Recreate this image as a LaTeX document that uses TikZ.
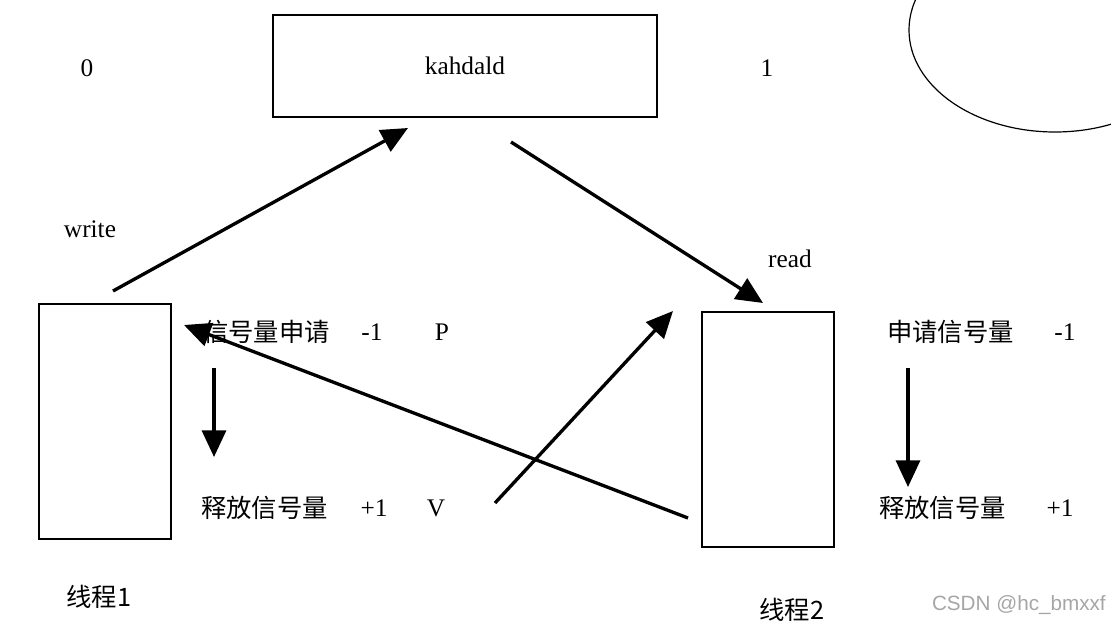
\documentclass[tikz,border=0pt]{standalone}
\usepackage{fontspec}
\setmainfont{Liberation Serif}
\newfontfamily\cjk{Noto Sans CJK SC}
\newfontfamily\wmfont{Liberation Sans}
\usetikzlibrary{arrows.meta}

\tikzset{
  box/.style={draw, line width=1pt, inner sep=0pt},
  arr/.style={line width=2.5pt, -{Triangle[length=20pt,width=18pt]}},
  zh/.style={font=\cjk\fontsize{19}{23}\selectfont, inner sep=0.75pt},
  lbl/.style={inner sep=0.75pt}
}

\begin{document}
\begin{tikzpicture}[x=0.75pt,y=0.75pt,yscale=-1,font=\fontsize{19}{23}\selectfont]
      \useasboundingbox (0,0) rectangle (1111,625);

      %Shapes: boxes
      \node[box, minimum width=288pt, minimum height=76.5pt] (buf) at (465,66) {kahdald};
      \node[box, minimum width=99pt, minimum height=176.25pt] (th1) at (105,421.5) {};
      \node[box, minimum width=99pt, minimum height=176.25pt] (th2) at (768,429.5) {};
      %Shape: Ellipse
      \draw [line width=0.9pt] (1055,30) ellipse [x radius=146, y radius=102];

      % Text Node
      \node[lbl] (zero) at (87,68) {0};
      \node[lbl] (one) at (767,68) {1};
      \node[lbl] (wr) at (90,229) {write};
      \node[lbl] (rd) at (790,259) {read};
      % Text Node
      \node[zh, anchor=west] (p1) at (202,332) {信号量申请};
      \node[lbl] (p1n) at (372,332) {-1};
      \node[lbl] (p1p) at (442,332) {P};
      \node[zh, anchor=west] (v1) at (200,508) {释放信号量};
      \node[lbl] (v1n) at (374,508) {+1};
      \node[lbl] (v1v) at (436,508) {V};
      \node[zh, anchor=west] (p2) at (886,332) {申请信号量};
      \node[lbl] (p2n) at (1065,332) {-1};
      \node[zh, anchor=west] (v2) at (878,508) {释放信号量};
      \node[lbl] (v2n) at (1060,508) {+1};
      \node[zh] (t1) at (99,597) {线程1};
      \node[zh] (t2) at (792,610) {线程2};
      \node[lbl, font=\wmfont\fontsize{15.5}{18}\selectfont, text=black!35, anchor=east] (wm) at (1107,605) {CSDN @hc\_bmxxf};

      %Arrow ends
      \coordinate (w0) at (113,291);
      \coordinate (w1) at (408,128);
      \coordinate (r0) at (511,142);
      \coordinate (r1) at (763,303);
      \coordinate (a0) at (214,368);
      \coordinate (a1) at (214,457);
      \coordinate (b0) at (908,368);
      \coordinate (b1) at (908,487);
      \coordinate (s0) at (688,518);
      \coordinate (s1) at (184,325);
      \coordinate (g0) at (495,503);
      \coordinate (g1) at (673,311);

      %Straight Lines
      \draw[arr] (w0) -- (w1);
      \draw[arr] (r0) -- (r1);
      \draw[arr] (a0) -- (a1);
      \draw[arr] (b0) -- (b1);
      \draw[arr] (s0) -- (s1);
      \draw[arr] (g0) -- (g1);

\end{tikzpicture}
\end{document}
